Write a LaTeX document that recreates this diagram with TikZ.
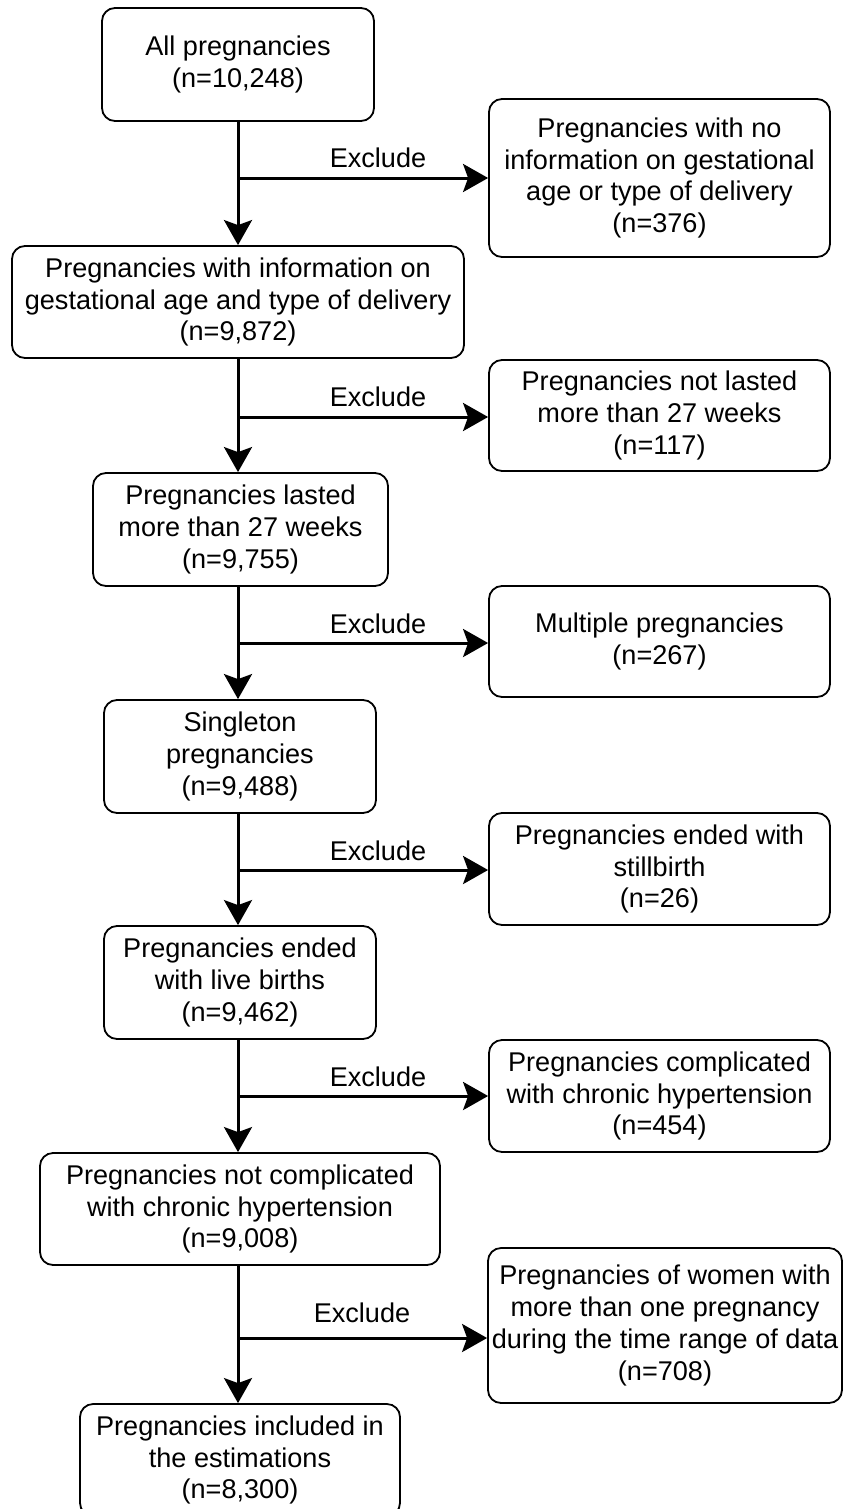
\documentclass[tikz,border=0pt]{standalone}
\usepackage{fontspec}
\setmainfont{Liberation Sans}
\usetikzlibrary{arrows.meta}
\begin{document}
\begin{tikzpicture}[x=1pt,y=-1pt,
  box/.style={draw=black, line width=1.8pt, rounded corners=13pt, fill=white, inner sep=0pt, align=center,
    font=\fontsize{27.1}{31.8}\selectfont},
  arr/.style={line width=3pt, -{Stealth[length=25pt,width=28pt,inset=5pt]}},
  lab/.style={font=\fontsize{27.1}{31.8}\selectfont, inner sep=0pt}]
\useasboundingbox (0,0) rectangle (844,1509);
\clip (0,0) rectangle (844,1509);
\fill[white] (0,0) rectangle (844,1509);
% left column
\node[box, minimum width=272pt, minimum height=113pt] (b1) at (238,64.5) {All pregnancies\\(n=10,248)};
\node[box, minimum width=452pt, minimum height=112pt] (b2) at (238,302) {Pregnancies with information on\\gestational age and type of delivery\\(n=9,872)};
\node[box, minimum width=295pt, minimum height=113pt] (b3) at (240.5,529.5) {Pregnancies lasted\\more than 27 weeks\\(n=9,755)};
\node[box, minimum width=272pt, minimum height=113pt] (b4) at (240,756.5) {Singleton\\pregnancies\\(n=9,488)};
\node[box, minimum width=272pt, minimum height=113pt] (b5) at (240,982.5) {Pregnancies ended\\with live births\\(n=9,462)};
\node[box, minimum width=400pt, minimum height=112pt] (b6) at (240,1209) {Pregnancies not complicated\\with chronic hypertension\\(n=9,008)};
\node[box, minimum width=320pt, minimum height=112pt] (b7) at (240,1460) {Pregnancies included in\\the estimations\\(n=8,300)};
% right column
\node[box, minimum width=341pt, minimum height=158pt] (r1) at (659.5,178) {Pregnancies with no\\information on gestational\\age or type of delivery\\(n=376)};
\node[box, minimum width=341pt, minimum height=111pt] (r2) at (659.5,415.5) {Pregnancies not lasted\\more than 27 weeks\\(n=117)};
\node[box, minimum width=341pt, minimum height=111pt] (r3) at (659.5,641.5) {Multiple pregnancies\\(n=267)};
\node[box, minimum width=341pt, minimum height=112pt] (r4) at (659.5,869) {Pregnancies ended with\\stillbirth\\(n=26)};
\node[box, minimum width=341pt, minimum height=112pt] (r5) at (659.5,1096) {Pregnancies complicated\\with chronic hypertension\\(n=454)};
\node[box, minimum width=354pt, minimum height=155pt] (r6) at (665,1325.5) {Pregnancies of women with\\more than one pregnancy\\during the time range of data\\(n=708)};
% vertical arrows
\draw[arr] (b1.south -| 238,0) -- (b2.north -| 238,0);
\draw[arr] (b2.south -| 238,0) -- (b3.north -| 238,0);
\draw[arr] (b3.south -| 238,0) -- (b4.north -| 238,0);
\draw[arr] (b4.south -| 238,0) -- (b5.north -| 238,0);
\draw[arr] (b5.south -| 238,0) -- (b6.north -| 238,0);
\draw[arr] (b6.south -| 238,0) -- (b7.north -| 238,0);
% junctions
\coordinate (j1) at (240,178);
\coordinate (j2) at (240,417);
\coordinate (j3) at (240,643);
\coordinate (j4) at (240,870);
\coordinate (j5) at (240,1096);
\coordinate (j6) at (240,1338);
\draw[arr] (j1) -- (j1 -| r1.west);
\draw[arr] (j2) -- (j2 -| r2.west);
\draw[arr] (j3) -- (j3 -| r3.west);
\draw[arr] (j4) -- (j4 -| r4.west);
\draw[arr] (j5) -- (j5 -| r5.west);
\draw[arr] (j6) -- (j6 -| r6.west);
% labels
\node[lab] (e1) at (378,158) {Exclude};
\node[lab] (e2) at (378,397) {Exclude};
\node[lab] (e3) at (378,624) {Exclude};
\node[lab] (e4) at (378,851) {Exclude};
\node[lab] (e5) at (378,1077) {Exclude};
\node[lab] (e6) at (362,1313) {Exclude};
\end{tikzpicture}
\end{document}
